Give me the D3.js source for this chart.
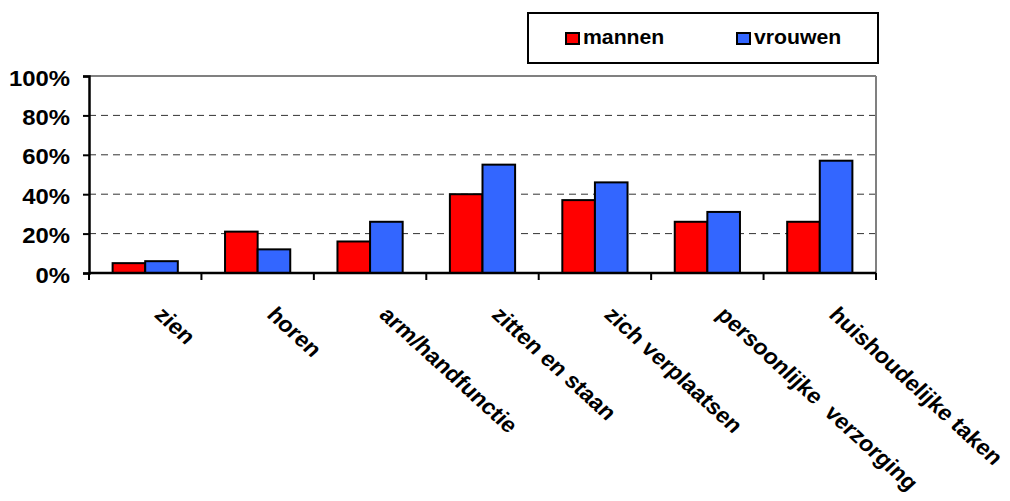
<!DOCTYPE html>
<html><head><meta charset="utf-8">
<script src="https://cdn.jsdelivr.net/npm/d3@7/dist/d3.min.js"></script>
<style>
body{margin:0;background:#fff;}
text{font-family:"Liberation Sans",Arial,sans-serif;font-weight:bold;}
</style></head>
<body><svg id="c" width="1010" height="501"></svg>
<script>
const categories = ["zien","horen","arm/handfunctie","zitten en staan","zich verplaatsen","persoonlijke  verzorging","huishoudelijke taken"];
const mannen = [5,21,16,40,37,26,26];
const vrouwen = [6,12,26,55,46,31,57];
const seriesNames = ["mannen","vrouwen"];
const seriesColors = ["#ff0000","#3366ff"];
const yTicks = [0,20,40,60,80,100];

const SX = 1.1; // horizontal text stretch seen in the reference
const svg = d3.select("#c");
const L=89, R=876, T=76, B=273;
const x = d3.scaleBand().domain(categories).range([L,R]).paddingInner(0.42).paddingOuter(0.21);
const xs = d3.scaleBand().domain(seriesNames).range([0,x.bandwidth()]);
const y = d3.scaleLinear().domain([0,100]).range([B,T]);

// gridlines
svg.append("g").selectAll("line").data(yTicks.filter(d=>d>0&&d<100)).join("line")
 .attr("x1",L).attr("x2",R).attr("y1",d=>y(d)).attr("y2",d=>y(d))
 .attr("stroke","#333").attr("stroke-width",1).attr("stroke-dasharray","7,5");
// top & right frame
svg.append("line").attr("x1",L).attr("x2",R).attr("y1",y(100)).attr("y2",y(100)).attr("stroke","#808080").attr("stroke-width",2);
svg.append("line").attr("x1",R).attr("x2",R).attr("y1",y(100)).attr("y2",B).attr("stroke","#808080").attr("stroke-width",2);

// bars
const data = [mannen,vrouwen];
seriesNames.forEach((s,i)=>{
  svg.append("g").selectAll("rect").data(categories).join("rect")
   .attr("x",(c)=>x(c)+xs(s)).attr("width",xs.bandwidth())
   .attr("y",(c,j)=>y(data[i][j])).attr("height",(c,j)=>B-y(data[i][j]))
   .attr("fill",seriesColors[i]).attr("stroke","#000").attr("stroke-width",2);
});

// y axis
const yAxis = svg.append("g").attr("transform",`translate(${L},0)`)
 .call(d3.axisLeft(y).tickValues(yTicks).tickFormat(d=>d+"%").tickSize(6).tickPadding(13));
yAxis.select(".domain").attr("stroke","#000").attr("stroke-width",2.5);
yAxis.selectAll(".tick line").attr("stroke","#000").attr("stroke-width",2);
yAxis.selectAll("text").attr("font-size",21.7).attr("fill","#000")
 .attr("x",-19/SX).attr("dy","0.42em").attr("transform",`scale(${SX},1)`);

// x axis
const bounds = d3.range(categories.length+1).map(i=>L+i*(R-L)/categories.length);
svg.append("line").attr("x1",L).attr("x2",R).attr("y1",B).attr("y2",B).attr("stroke","#000").attr("stroke-width",2.5);
svg.append("g").selectAll("line").data(bounds).join("line")
 .attr("x1",d=>d).attr("x2",d=>d).attr("y1",B).attr("y2",B+7).attr("stroke","#000").attr("stroke-width",2);
svg.append("g").selectAll("text").data(categories).join("text")
 .attr("transform",c=>`translate(${x(c)+x.bandwidth()/2+8},${B+43}) scale(${SX},1) rotate(45)`)
 .attr("text-anchor","start").attr("font-size",21.5).attr("fill","#000")
 .style("white-space","pre").text(c=>c);

// legend
const lg = svg.append("g");
lg.append("rect").attr("x",528).attr("y",13).attr("width",350).attr("height",50).attr("fill","#fff").attr("stroke","#000").attr("stroke-width",2);
const lx=[565,736];
seriesNames.forEach((s,i)=>{
  lg.append("rect").attr("x",lx[i]+1).attr("y",33).attr("width",13).attr("height",11).attr("fill",seriesColors[i]).attr("stroke","#000").attr("stroke-width",2);
  lg.append("text").attr("transform",`translate(${lx[i]+18},44) scale(${SX},1)`).attr("font-size",19.3).attr("fill","#000").text(s);
});
</script></body></html>
